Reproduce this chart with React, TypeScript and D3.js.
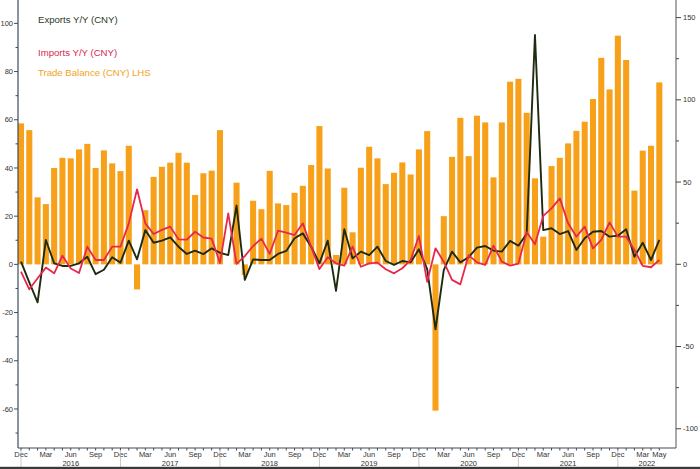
import React from 'react';
import * as d3 from 'd3';

const W = 700;
const H = 469;

// Monthly categories: Dec 2015 .. May 2022 (78 months)
const months: Date[] = d3.timeMonth.range(new Date(2015, 11, 1), new Date(2022, 5, 1));

// Trade balance (LHS, bars); null = no value shown
const tradeBalance: (number | null)[] = [
  58.5, 55.7, 27.8, 25, 40, 44.2, 44, 47.7, 50, 40, 47.3, 41.9,
  38.7, 49.2, -10.4, 22.5, 36.3, 40.5, 42.2, 46.3, 42.2, 28.8, 37.8, 38.9,
  55.7, null, 33.9, -4.4, 26.4, 22.9, 38.8, 25.3, 24.6, 29.7, 32.6, 41.2,
  57.4, 39.8, 3.9, 31.8, 13.3, 40.1, 48.8, 44, 33.3, 38, 42.3, 37.3,
  47.7, 55.3, -60.7, 20, 44.6, 60.8, 44.9, 61.7, 58.9, 36.1, 58.9, 75.8,
  77, 62.9, 35.7, 11.5, 40.8, 44.2, 50.2, 55.4, 59.2, 68.6, 85.7, 72.6,
  94.9, 84.8, 30.6, 47.2, 49.2, 75.5,
];

// Exports Y/Y (RHS)
const exportsYoY: number[] = [
  1.6, -11, -23.1, 14.8, 0.6, -1, -1, 0.6, 4.6, -6, -3.3, 4.3,
  1, 14.4, 3, 20.8, 13.1, 14.4, 16.4, 10.7, 6.3, 8.3, 6.2, 9.7,
  7, 5.6, 35.7, -9.5, 3, 2.6, 2.6, 6.3, 8.1, 15.8, 18.8, 10.7,
  0.6, 14.4, -16.2, 21.3, 3.6, 7.7, 5.6, 10.7, 2, -0.4, 2, 1.2,
  9.1, -3, -39.5, -3.5, 7.7, 1.2, 4.3, 10.1, 11.1, 8.3, 7.7, 14.2,
  11.3, 18.5, 139.4, 20.8, 21.9, 18.4, 20.2, 8.7, 15.8, 19.8, 20.2, 16.8,
  17.4, 21.3, 4.6, 13.1, 2.6, 14.8,
];

// Imports Y/Y (RHS)
const importsYoY: number[] = [
  -4.5, -15.2, -8.5, -2, -5.5, 5.2, -2.6, -5.3, 10.7, 2.6, 2.6, 10.7,
  10.7, 24.9, 45.6, 24.9, 18.4, 20.9, 22.9, 15.2, 15, 19.8, 16.3, 15.6,
  0.8, 31, 0.3, 5, 11.1, 15.6, 6.3, 20.4, 19.2, 17.8, 24.9, 10.7,
  -2.9, 4.3, 0.6, -0.8, 10.7, -1.5, 0.6, 1, -3, -5.5, -2.4, 2.6,
  17.2, -10.6, 9.7, 1.6, -9.5, -12.2, 5.6, 1.2, -0.4, 11.3, 1.6, -0.8,
  0.4, 19.6, 12.2, 29.4, 34, 40.1, 24.9, 16.8, 22.9, 9.7, 14.8, 25.5,
  16.8, 16.8, 8.7, -1, -1.8, 2.6,
];

const leftTicks = [100, 80, 60, 40, 20, 0, -20, -40, -60];
const leftMinor = [90, 70, 50, 30, 10, -10, -30, -50, -70];
const rightTicks = [150, 100, 50, 0, -50, -100];
const rightMinor = [125, 75, 25, -25, -75];
const labeledMonths = [11, 2, 5, 8]; // Dec, Mar, Jun, Sep
const yearLabels = ['2016', '2017', '2018', '2019', '2020', '2021', '2022'];

const legendItems = [
  { label: 'Exports Y/Y (CNY)', color: '#2b3a1c', y: 22.5 },
  { label: 'Imports Y/Y (CNY)', color: '#d8284f', y: 55.5 },
  { label: 'Trade Balance (CNY) LHS', color: '#f0a424', y: 75.5 },
];

const PLOT_L = 18;
const PLOT_R = 676;
const PLOT_T = 0;
const PLOT_B = 448;

const FONT = '"Liberation Sans", Arial, sans-serif';

export default function App() {
  const idx = months.map((_, i) => i);
  const x = d3
    .scaleBand<number>()
    .domain(idx)
    .range([16.86, 663.45])
    .paddingInner(0.27)
    .paddingOuter(0.135);
  const cx = (i: number) => (x(i) as number) + x.bandwidth() / 2;

  const yL = d3.scaleLinear().domain([-76.2, 109.7]).range([PLOT_B, PLOT_T]);
  const yR = d3.scaleLinear().domain([-111.7, 160.7]).range([PLOT_B, PLOT_T]);

  const lineExp = d3
    .line<number>()
    .x((_, i) => cx(i))
    .y((d) => yR(d));
  const lineImp = d3
    .line<number>()
    .x((_, i) => cx(i))
    .y((d) => yR(d));

  const monthAbbr = d3.timeFormat('%b');

  // Dec positions as year separators
  const decIdx = idx.filter((i) => months[i].getMonth() === 11);

  return (
    <svg
      width={W}
      height={H}
      style={{ position: 'absolute', left: 0, top: 0, background: '#fff' }}
      fontFamily={FONT}
    >
      <rect x={0} y={0} width={W} height={H} fill="#fff" />

      {/* bars */}
      <g>
        {tradeBalance.map((v, i) =>
          v === null ? null : (
            <rect
              key={i}
              x={x(i)}
              width={x.bandwidth()}
              y={Math.min(yL(v), yL(0))}
              height={Math.abs(yL(v) - yL(0))}
              fill="#f7a11a"
            />
          )
        )}
      </g>

      {/* lines */}
      <path d={lineExp(exportsYoY) || ''} fill="none" stroke="#1f2b0f" strokeWidth={1.9} strokeLinejoin="round" />
      <path d={lineImp(importsYoY) || ''} fill="none" stroke="#e8284a" strokeWidth={1.8} strokeLinejoin="round" />

      {/* axes lines */}
      <line x1={PLOT_L} x2={PLOT_L} y1={PLOT_T} y2={PLOT_B} stroke="#3e4c5c" strokeWidth={1.2} />
      <line x1={PLOT_R} x2={PLOT_R} y1={PLOT_T} y2={PLOT_B} stroke="#555" strokeWidth={1} />
      <line x1={PLOT_L} x2={PLOT_R} y1={PLOT_B} y2={PLOT_B} stroke="#3e4c5c" strokeWidth={1.2} />

      {/* left ticks */}
      {leftTicks.map((t) => (
        <g key={'l' + t}>
          <line x1={PLOT_L - 4} x2={PLOT_L} y1={yL(t)} y2={yL(t)} stroke="#3e4c5c" />
          <text x={PLOT_L - 5} y={yL(t)} dy="0.35em" textAnchor="end" fontSize={7.5} fill="#333">
            {t}
          </text>
        </g>
      ))}
      {leftMinor.map((t) => (
        <line key={'lm' + t} x1={PLOT_L - 2.5} x2={PLOT_L} y1={yL(t)} y2={yL(t)} stroke="#3e4c5c" />
      ))}

      {/* right ticks */}
      {rightTicks.map((t) => (
        <g key={'r' + t}>
          <line x1={PLOT_R} x2={PLOT_R + 5} y1={yR(t)} y2={yR(t)} stroke="#444" />
          <text x={PLOT_R + 7} y={yR(t)} dy="0.35em" textAnchor="start" fontSize={7.5} fill="#333">
            {t}
          </text>
        </g>
      ))}
      {rightMinor.map((t) => (
        <line key={'rm' + t} x1={PLOT_R} x2={PLOT_R + 3} y1={yR(t)} y2={yR(t)} stroke="#444" />
      ))}

      {/* bottom month ticks */}
      {idx.map((i) => (
        <line key={'mt' + i} x1={cx(i)} x2={cx(i)} y1={PLOT_B} y2={PLOT_B + 2.5} stroke="#3e4c5c" />
      ))}
      {idx
        .filter((i) => labeledMonths.includes(months[i].getMonth()) || i === idx.length - 1)
        .map((i) => (
          <text key={'ml' + i} x={cx(i)} y={457} textAnchor="middle" fontSize={7.5} fill="#333">
            {monthAbbr(months[i])}
          </text>
        ))}

      {/* year separators */}
      {decIdx.map((i) => (
        <line key={'ys' + i} x1={cx(i)} x2={cx(i)} y1={PLOT_B + 2} y2={467} stroke="#bbb" strokeWidth={0.8} />
      ))}
      {yearLabels.map((yl, k) => {
        const a = cx(decIdx[k]);
        const b = k + 1 < decIdx.length ? cx(decIdx[k + 1]) : PLOT_R;
        return (
          <text key={'yl' + yl} x={(a + b) / 2} y={465.5} textAnchor="middle" fontSize={7.5} fill="#333">
            {yl}
          </text>
        );
      })}

      {/* legend */}
      {legendItems.map((l) => (
        <text key={l.label} x={38} y={l.y} fontSize={9.6} fill={l.color}>
          {l.label}
        </text>
      ))}

      {/* bottom frame strip */}
      <rect x={0} y={466.8} width={W} height={2.2} fill="#3a3a3a" />
    </svg>
  );
}
